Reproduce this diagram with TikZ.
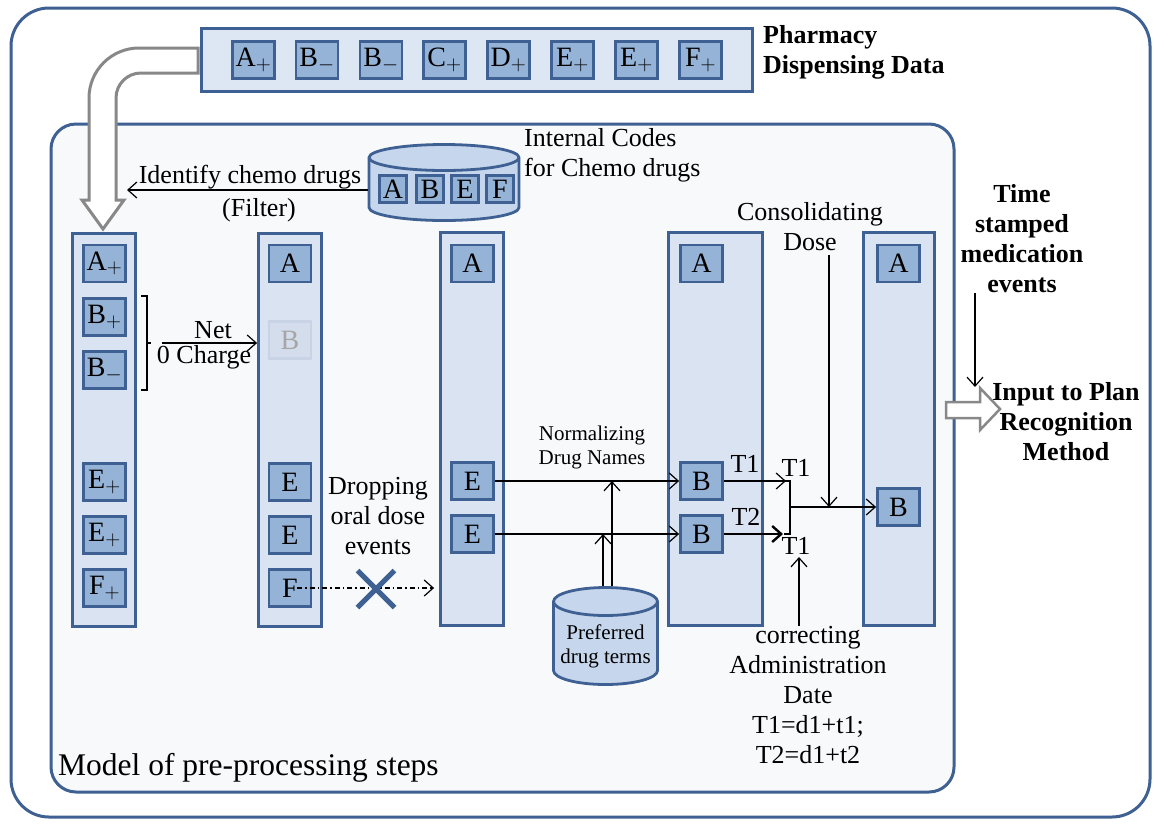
\documentclass[tikz,border=0pt]{standalone}
\usepackage{fontspec}
\setmainfont{Liberation Serif}
\usetikzlibrary{shapes.misc}
\usetikzlibrary{arrows.meta}
\definecolor{dblue}{RGB}{62,96,146}
\definecolor{colfill}{RGB}{218,227,241}
\definecolor{itemfill}{RGB}{149,179,215}
\definecolor{pharmfill}{RGB}{221,230,243}
\definecolor{innerfill}{RGB}{248,249,251}
\definecolor{dbfill}{RGB}{198,214,236}
\definecolor{arrgray}{RGB}{136,136,136}
\definecolor{fadeline}{RGB}{200,212,230}
\definecolor{fadefill}{RGB}{211,221,236}
\newcommand{\txt}{\fontsize{26}{30}\selectfont}
\newcommand{\smalltxt}{\fontsize{21}{24}\selectfont}
% cylinder: centre x, top ellipse y, bottom ellipse y, x radius, y radius
\newcommand{\dbshape}[5]{\draw[dbline,fill=dbfill] (#1-#4,#2) -- (#1-#4,#3) arc[start angle=180,end angle=0,x radius=#4,y radius=#5] -- (#1+#4,#2) arc[start angle=0,end angle=-180,x radius=#4,y radius=#5] -- cycle;\draw[dbline] (#1-#4,#2) arc[start angle=180,end angle=0,x radius=#4,y radius=#5];}
\tikzset{
	outerframe/.style={draw=dblue,line width=3pt},
	colbox/.style={draw=dblue,fill=colfill,line width=2.8pt,minimum width=63pt,minimum height=393pt,inner sep=0pt},
	drug/.style={draw=dblue,fill=itemfill,line width=2.8pt,minimum width=42pt,minimum height=37pt,inner sep=0pt,font=\fontsize{28}{30}\selectfont},
	faded/.style={drug,draw=fadeline,fill=fadefill,text=black!35},
	codebox/.style={drug,minimum width=27pt,minimum height=27pt},
	pharmbox/.style={draw=dblue,fill=pharmfill,line width=2.8pt,minimum width=551pt,minimum height=63pt},
	dbline/.style={draw=dblue,line width=2.8pt},
	dbarea/.style={inner sep=0pt},
	labl/.style={font=\txt,inner sep=0pt,align=center},
	boldlabl/.style={labl,font=\txt\bfseries},
	conn/.style={line width=1.2pt},
	bigarrow/.style={draw=arrgray,fill=white,line width=3pt},
	>={Straight Barb[length=9pt,width=16pt]},
}
\begin{document}
\begin{tikzpicture}[x=1pt,y=-1pt]
\useasboundingbox[fill=white] (0,0) rectangle (1156,823);
%FRAMES
\draw[outerframe,rounded corners=38pt] (11,8) rectangle (1150,817);
\draw[outerframe,fill=innerfill,rounded corners=25pt] (51,124) rectangle (954,792);
%PHARMACY DATA
\node[pharmbox] (pharm) at (477,60) {};
\node[drug] (p1) at (253.5,60) {A$_+$};
\node[drug] (p2) at (317,60) {B$_-$};
\node[drug] (p3) at (381,60) {B$_-$};
\node[drug] (p4) at (444.5,60) {C$_+$};
\node[drug] (p5) at (508.5,60) {D$_+$};
\node[drug] (p6) at (572.5,60) {E$_+$};
\node[drug] (p7) at (636.5,60) {E$_+$};
\node[drug] (p8) at (700.5,60) {F$_+$};
\node[boldlabl,align=left,anchor=west] (pharmtxt) at (763,52) {Pharmacy\\Dispensing Data};
%BIG ARROW
\draw[bigarrow] (198,48) -- (139,48) .. controls (111.4,48) and (89,70.4) .. (89,98) -- (89,200) -- (82,200) -- (103,229) -- (124,200) -- (116,200) -- (116,98) .. controls (116,84.2) and (127.2,73) .. (141,73) -- (198,73) -- cycle;
%COLUMNS
\node[colbox] (c1) at (104,430) {};
\node[colbox] (c2) at (290,430) {};
\node[colbox] (c3) at (472,429) {};
\node[colbox,minimum width=94pt] (c4) at (715.5,429) {};
\node[colbox,minimum width=71pt] (c5) at (899,429) {};
%INTERNAL CODES
\dbshape{444}{157.5}{207.5}{75}{13}
\node[dbarea,minimum width=152pt,minimum height=79pt] (codes) at (444,182.5) {};
\node[codebox] (ka) at (393,189) {A};
\node[codebox] (kb) at (430,189) {B};
\node[codebox] (ke) at (465,189) {E};
\node[codebox] (kf) at (500,189) {F};
\node[labl,align=left,anchor=west] (codestxt) at (524,155) {Internal Codes\\for Chemo drugs};
\node[labl] (idtxt) at (250,177) {Identify chemo drugs};
\node[labl] (filt) at (259,210) {(Filter)};
\coordinate (idtip) at (127,190);
\draw[->,conn] (codes.west |- idtip) -- (idtip);
%COLUMN 1
\node[drug] (a1) at (104.5,263.5) {A$_+$};
\node[drug] (b1) at (104.5,317) {B$_+$};
\node[drug] (bm1) at (104.5,370) {B$_-$};
\node[drug] (e1) at (104.5,482) {E$_+$};
\node[drug] (ee1) at (104.5,535) {E$_+$};
\node[drug] (f1) at (104.5,588) {F$_+$};
%NET CHARGE
\draw[conn] (141,296) -- (147,296) -- (147,390) -- (141,390);
\draw[conn] (147,343) -- (151,343);
\coordinate (netstart) at (162,343);
\draw[->,conn] (netstart) -- (netstart -| c2.west);
\node[labl] (net) at (213,330) {Net};
\node[labl] (charge) at (204,357) {0 Charge};
%COLUMN 2
\node[drug] (a2) at (290,263.5) {A};
\node[faded] (b2) at (290,340) {B};
\node[drug] (e2) at (290,482) {E};
\node[drug] (ee2) at (290,535) {E};
\node[drug] (f2) at (290,588) {F};
%DROPPING
\node[labl] (droptxt) at (378,516) {Dropping\\oral dose\\events};
\draw[->,conn,dash pattern=on 5pt off 3pt on 1.5pt off 3pt,shorten >=5pt] ([xshift=7pt]f2.center) -- (f2 -| c3.west);
\node[cross out,draw=dblue,line width=5pt,minimum size=32pt,inner sep=0pt] (xmark) at (376,589) {};
%COLUMN 3
\node[drug] (a3) at (472.5,263.5) {A};
\node[drug] (e3) at (472.5,481) {E};
\node[drug] (ee3) at (472.5,534) {E};
%COLUMN 4
\node[drug] (a4) at (701.5,263.5) {A};
\node[drug] (b4) at (701.5,481) {B};
\node[drug] (bb4) at (701.5,534) {B};
%NORMALIZING
\node[labl,font=\smalltxt] (normtxt) at (592,447) {Normalizing\\Drug Names};
\draw[->,conn] (e3.east) -- (b4.west);
\draw[->,conn] (ee3.east) -- (bb4.west);
\dbshape{605.5}{601.5}{670.5}{52}{14}
\node[dbarea,minimum width=107pt,minimum height=100pt] (pref) at (605.5,636) {};
\node[labl,font=\smalltxt] (preftxt) at (605.5,646) {Preferred\\drug terms};
\coordinate (nup1) at (612,481);
\coordinate (nup2) at (603,534);
\draw[->,conn] (pref.north -| nup1) -- (nup1);
\draw[->,conn] (pref.north -| nup2) -- (nup2);
%COLUMN 5
\node[drug] (a5) at (898.5,263.5) {A};
\node[drug] (b5) at (898.5,507) {B};
%TIME STAMPS
\coordinate (j1) at (786,481);
\coordinate (j2) at (783,534);
\coordinate (jm) at (790,507);
\coordinate (jc) at (829,507);
\draw[->,conn] (b4.east) -- (j1);
\draw[->,line width=2.4pt] (bb4.east) -- (j2);
\draw[conn] (784,481) -- (790,481) -- (790,534) -- (784,534);
\draw[->,conn] (jm) -- (b5.west);
\node[labl] (t1a) at (745,464) {T1};
\node[labl] (t2a) at (746,517) {T2};
\node[labl] (t1b) at (796,468) {T1};
\node[labl] (t1c) at (796,546) {T1};
\node[labl] (cons) at (810,227) {Consolidating\\Dose};
\draw[->,conn,shorten <=4pt] (cons.south -| jc) -- (jc);
\node[labl] (corr) at (808,695) {correcting\\Administration\\Date\\T1=d1+t1;\\T2=d1+t2};
\coordinate (cup) at (799,557);
\draw[->,conn] (corr.north -| cup) -- (cup);
%OUTPUT
\node[boldlabl] (time) at (1022,239) {Time\\stamped\\medication\\events};
\coordinate (tdown) at (975,387);
\draw[->,conn] (time.south -| tdown) -- (tdown);
\draw[bigarrow,line width=2.5pt] (946,402) -- (980,402) -- (980,388) -- (1000,409) -- (980,430) -- (980,418) -- (946,418) -- cycle;
\node[boldlabl] (input) at (1066,422) {Input to Plan\\Recognition\\Method};
%MODEL LABEL
\node[labl,font=\fontsize{31.5}{36}\selectfont,anchor=west] (model) at (58,768) {Model of pre-processing steps};
\end{tikzpicture}
\end{document}
